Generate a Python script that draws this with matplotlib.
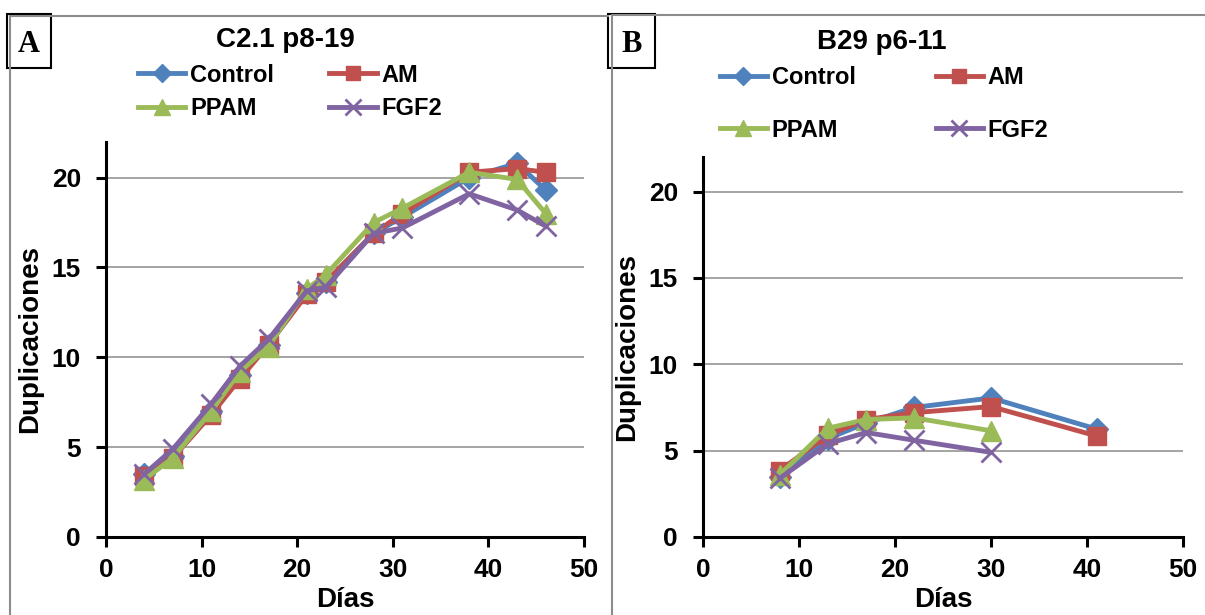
import matplotlib
matplotlib.use('Agg')
import matplotlib.pyplot as plt
from matplotlib.lines import Line2D
from matplotlib.patches import Rectangle

plt.rcParams['font.family'] = ['Liberation Sans', 'DejaVu Sans']
plt.rcParams['font.weight'] = 'bold'

# Panel A: C2.1 p8-19
dias_a = [4, 7, 11, 14, 17, 21, 23, 28, 31, 38, 43, 46]
control_a = [3.5, 4.5, 7.0, 9.0, 10.7, 13.6, 14.2, 16.9, 17.8, 20.0, 20.8, 19.3]
am_a = [3.4, 4.4, 6.8, 8.8, 10.7, 13.5, 14.2, 16.9, 18.0, 20.3, 20.5, 20.3]
ppam_a = [3.2, 4.4, 7.0, 9.2, 10.6, 13.8, 14.6, 17.5, 18.3, 20.3, 19.9, 18.0]
fgf2_a = [3.5, 4.9, 7.4, 9.5, 11.0, 13.7, 13.9, 16.9, 17.2, 19.1, 18.2, 17.3]

# Panel B: B29 p6-11
dias_b = [8, 13, 17, 22, 30, 41]
control_b = [3.5, 5.7, 6.6, 7.5, 8.05, 6.25]
am_b = [3.85, 5.9, 6.8, 7.2, 7.55, 5.85]
dias_b_short = [8, 13, 17, 22, 30]
ppam_b = [3.6, 6.3, 6.8, 6.9, 6.15]
fgf2_b = [3.4, 5.4, 6.05, 5.6, 4.9]

labels = ['Control', 'AM', 'PPAM', 'FGF2']
colors = ['#4F81BD', '#C0504D', '#9BBB59', '#8064A2']
markers = ['D', 's', '^', 'x']
msizes = [11, 13, 14, 14]

W, H = 1205, 615
fig = plt.figure(figsize=(W / 100, H / 100), dpi=100)


def fx(px):
    return px / W


def fy(py):
    return 1 - py / H


def style_axes(ax):
    ax.set_xlim(0, 50)
    ax.set_ylim(0, 22)
    ax.set_xticks(range(0, 51, 10))
    ax.set_yticks(range(0, 21, 5))
    ax.spines['top'].set_visible(False)
    ax.spines['right'].set_visible(False)
    for s in ['left', 'bottom']:
        ax.spines[s].set_linewidth(2.2)
    ax.tick_params(axis='both', direction='out', length=7, width=2.2, labelsize=19)
    ax.tick_params(axis='x', pad=8)
    ax.tick_params(axis='y', pad=11)
    ax.yaxis.grid(True, color='#8c8c8c', linewidth=1.1)
    ax.set_axisbelow(True)
    ax.set_xlabel('Días', fontsize=20, fontweight='bold', labelpad=4)
    ax.set_ylabel('Duplicaciones', fontsize=20, fontweight='bold', labelpad=6)


def draw(ax, series):
    handles = []
    for (x, y), lab, c, m, ms in zip(series, labels, colors, markers, msizes):
        mew = 2 if m == 'x' else 1
        h, = ax.plot(x, y, color=c, lw=3.5, marker=m, markersize=ms,
                     markeredgewidth=mew, label=lab, clip_on=False)
        handles.append(h)
    return handles


ax_a = fig.add_axes([fx(106), fy(537), fx(584 - 106), (537 - 141.7) / H])
ha = draw(ax_a, [(dias_a, control_a), (dias_a, am_a), (dias_a, ppam_a), (dias_a, fgf2_a)])
style_axes(ax_a)

ax_b = fig.add_axes([fx(703), fy(537), fx(1183 - 703), (537 - 157) / H])
hb = draw(ax_b, [(dias_b, control_b), (dias_b, am_b), (dias_b_short, ppam_b), (dias_b_short, fgf2_b)])
style_axes(ax_b)

# legends, row-major order (Control, AM / PPAM, FGF2)
order = [0, 2, 1, 3]
leg_a = fig.legend(handles=[ha[i] for i in order], labels=[labels[i] for i in order],
                   ncol=2, loc='center', bbox_to_anchor=(fx(290), fy(92)), frameon=False,
                   fontsize=17, handlelength=2.0, handletextpad=0.2, columnspacing=2.35,
                   labelspacing=0.45, borderpad=0, markerscale=0.8)
leg_b = fig.legend(handles=[hb[i] for i in order], labels=[labels[i] for i in order],
                   ncol=2, loc='center', bbox_to_anchor=(fx(884), fy(104)), frameon=False,
                   fontsize=17, handlelength=2.0, handletextpad=0.2, columnspacing=3.4,
                   labelspacing=1.25, borderpad=0, markerscale=0.8)

# titles
fig.text(fx(285), fy(40), 'C2.1 p8-19', ha='center', va='center', fontsize=20, fontweight='bold')
fig.text(fx(882), fy(42), 'B29 p6-11', ha='center', va='center', fontsize=20, fontweight='bold')

# panel frames
frame_c = '#8c8c8c'
fig.add_artist(Line2D([fx(10), fx(10)], [fy(16), 0], color=frame_c, lw=1.5))
fig.add_artist(Line2D([fx(10), fx(608)], [fy(16), fy(16)], color=frame_c, lw=1.5))
fig.add_artist(Line2D([fx(612), fx(612)], [fy(15), 0], color=frame_c, lw=1.5))
fig.add_artist(Line2D([fx(612), 1], [fy(15), fy(15)], color=frame_c, lw=1.5))

# panel letters
for x0, x1, letter in [(7, 51, 'A'), (608, 655, 'B')]:
    fig.add_artist(Rectangle((fx(x0), fy(68)), fx(x1 - x0), (68 - 14) / H,
                             facecolor='white', edgecolor='black', lw=1.5))
    fig.text(fx((x0 + x1) / 2), fy(44), letter, ha='center', va='center',
             fontsize=22, fontweight='bold', family=['Liberation Serif', 'DejaVu Serif'])

fig.savefig('out.png', dpi=100)
